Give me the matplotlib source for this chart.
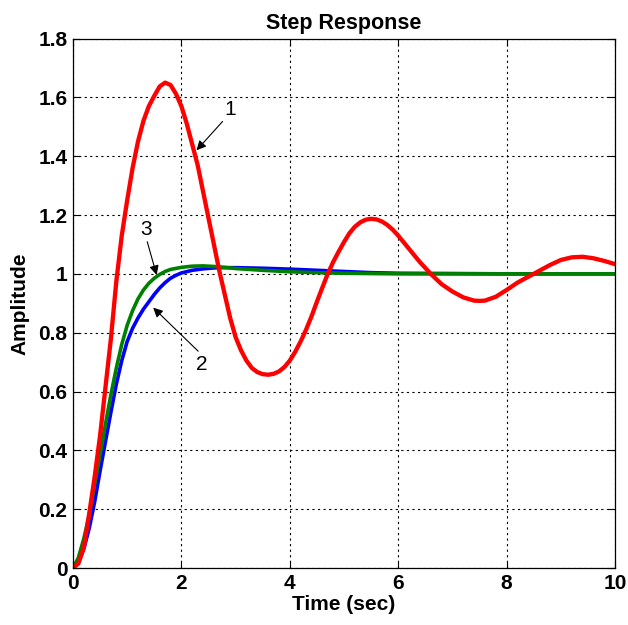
import matplotlib
matplotlib.use("Agg")
import matplotlib.pyplot as plt

# step responses (time in sec, amplitude)
t_red = [0.0, 0.1, 0.2, 0.3, 0.4, 0.5, 0.6, 0.7, 0.8, 0.9, 1.0, 1.1, 1.2, 1.3, 1.4, 1.5,
         1.6, 1.7, 1.8, 1.9, 2.0, 2.1, 2.2, 2.3, 2.4, 2.5, 2.6, 2.7, 2.8, 2.9, 3.0, 3.1,
         3.2, 3.3, 3.4, 3.5, 3.6, 3.7, 3.8, 3.9, 4.0, 4.1, 4.2, 4.3, 4.4, 4.5, 4.6, 4.7,
         4.8, 4.9, 5.0, 5.1, 5.2, 5.3, 5.4, 5.5, 5.6, 5.7, 5.8, 5.9, 6.0, 6.2, 6.4, 6.6,
         6.8, 7.0, 7.2, 7.4, 7.5, 7.6, 7.8, 8.0, 8.2, 8.4, 8.6, 8.8, 9.0, 9.2, 9.4, 9.6,
         9.8, 10.0]
y_red = [0.0, 0.015, 0.07, 0.185, 0.31, 0.45, 0.615, 0.78, 0.975, 1.13, 1.25, 1.36, 1.45, 1.52, 1.57, 1.605,
         1.637, 1.65, 1.642, 1.612, 1.57, 1.51, 1.44, 1.37, 1.28, 1.19, 1.10, 1.01, 0.93, 0.85, 0.785, 0.74,
         0.705, 0.68, 0.666, 0.659, 0.657, 0.66, 0.668, 0.683, 0.705, 0.735, 0.77, 0.81, 0.855, 0.905, 0.953, 1.0,
         1.04, 1.075, 1.108, 1.138, 1.16, 1.175, 1.184, 1.187, 1.185, 1.178, 1.166, 1.15, 1.13, 1.085, 1.04, 1.0,
         0.965, 0.94, 0.92, 0.909, 0.908, 0.909, 0.922, 0.945, 0.97, 0.99, 1.01, 1.03, 1.047, 1.056, 1.058, 1.053,
         1.044, 1.033]

t_blue = [0.0, 0.1, 0.2, 0.3, 0.4, 0.5, 0.6, 0.7, 0.8, 0.9, 1.0, 1.1, 1.2, 1.3, 1.4, 1.5,
          1.6, 1.7, 1.8, 1.9, 2.0, 2.2, 2.4, 2.6, 2.8, 3.0, 3.5, 4.0, 4.5, 5.0, 5.5, 6.0,
          7.0, 8.0, 10.0]
y_blue = [0.0, 0.02, 0.065, 0.135, 0.225, 0.33, 0.43, 0.53, 0.625, 0.705, 0.77, 0.815, 0.85, 0.88, 0.905, 0.93,
          0.952, 0.97, 0.985, 0.995, 1.003, 1.012, 1.017, 1.02, 1.021, 1.021, 1.019, 1.016, 1.012, 1.008, 1.004, 1.002,
          1.001, 1.0, 1.0]

t_green = [0.0, 0.1, 0.2, 0.3, 0.4, 0.5, 0.6, 0.7, 0.8, 0.9, 1.0, 1.1, 1.2, 1.3, 1.4, 1.5,
           1.6, 1.7, 1.8, 2.0, 2.2, 2.4, 2.6, 2.8, 3.0, 3.5, 4.0, 4.5, 5.0, 6.0, 10.0]
y_green = [0.0, 0.035, 0.10, 0.18, 0.285, 0.385, 0.49, 0.59, 0.68, 0.76, 0.825, 0.875, 0.915, 0.945, 0.968, 0.985,
           0.998, 1.008, 1.015, 1.022, 1.026, 1.027, 1.025, 1.022, 1.018, 1.012, 1.007, 1.004, 1.002, 1.0, 1.0]

x_ticks = [0, 2, 4, 6, 8, 10]
y_ticks = [0, 0.2, 0.4, 0.6, 0.8, 1, 1.2, 1.4, 1.6, 1.8]

plt.rcParams['font.family'] = ['Liberation Sans', 'DejaVu Sans']

fig = plt.figure(figsize=(6.28, 6.25), dpi=100)
ax = fig.add_axes([0.1162, 0.0912, 0.8631, 0.8472])

ax.plot(t_blue, y_blue, color='#0000ff', lw=2.6)
ax.plot(t_green, y_green, color='#008000', lw=2.6)
ax.plot(t_red, y_red, color='#ff0000', lw=3.1)

ax.set_xlim(0, 10)
ax.set_ylim(0, 1.8)
ax.set_xticks(x_ticks)
ax.set_yticks(y_ticks)
ax.set_xticklabels([f'{v:g}' for v in x_ticks])
ax.set_yticklabels([f'{v:g}' for v in y_ticks])
ax.tick_params(direction='in', length=5, width=0.8, top=True, right=True,
               labelsize=15, pad=4)
for lab in ax.get_xticklabels() + ax.get_yticklabels():
    lab.set_fontweight('bold')
ax.grid(True, color='black', linestyle=(0, (2, 3)), linewidth=0.8)
for s in ax.spines.values():
    s.set_linewidth(0.9)

ax.set_title('Step Response', fontsize=15.5, fontweight='bold', pad=7)
ax.set_xlabel('Time (sec)', fontsize=15, fontweight='bold', labelpad=2)
ax.set_ylabel('Amplitude', fontsize=15, fontweight='bold', labelpad=6)

arrow = dict(arrowstyle='-|>', color='black', lw=0.8, mutation_scale=14,
             shrinkA=0, shrinkB=0)
ax.text(2.90, 1.56, '1', fontsize=15, ha='center', va='center')
ax.annotate('', xy=(2.28, 1.42), xytext=(2.76, 1.518), arrowprops=arrow)
ax.text(1.35, 1.152, '3', fontsize=15, ha='center', va='center')
ax.annotate('', xy=(1.544, 0.996), xytext=(1.37, 1.109), arrowprops=arrow)
ax.text(2.37, 0.692, '2', fontsize=15, ha='center', va='center')
ax.annotate('', xy=(1.48, 0.885), xytext=(2.31, 0.737), arrowprops=arrow)

fig.savefig('out.png', dpi=100)
